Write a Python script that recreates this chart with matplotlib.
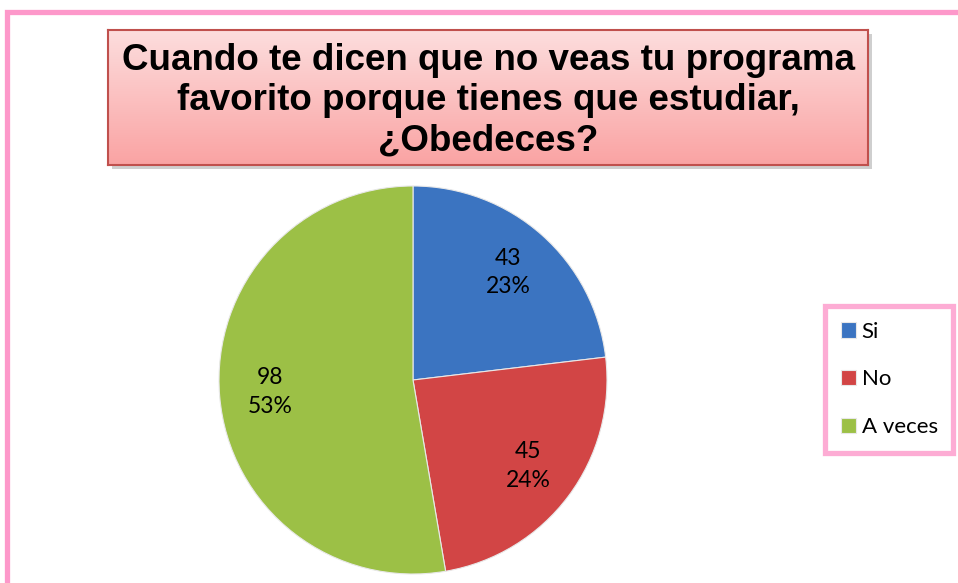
import numpy as np
import matplotlib.pyplot as plt
from matplotlib.patches import Rectangle

labels = ['Si', 'No', 'A veces']
values = [43, 45, 98]
colors = ['#3b74c1', '#d24545', '#9cc046']
title = 'Cuando te dicen que no veas tu programa\nfavorito porque tienes que estudiar,\n¿Obedeces?'

W, H = 958, 583
fig = plt.figure(figsize=(W / 100, H / 100), dpi=100)
fig.patch.set_facecolor('white')

# pink outer frame (runs off the right and bottom edges)
fig.patches.append(Rectangle((7 / W, -0.1), 1.2, 1 - 12 / H + 0.1, transform=fig.transFigure,
                             fill=False, edgecolor='#fd98ca', linewidth=3.8, zorder=0))

# title box with shadow and gradient
x0, x1, y0, y1 = 108, 868, 30, 165
fig.patches.append(Rectangle(((x0 + 4) / W, 1 - (y1 + 4) / H), (x1 - x0) / W, (y1 - y0) / H,
                             transform=fig.transFigure, facecolor='#b0b0b0', edgecolor='none',
                             alpha=0.6, zorder=1))
tax = fig.add_axes([x0 / W, 1 - y1 / H, (x1 - x0) / W, (y1 - y0) / H], zorder=2)
grad = np.linspace(0, 1, 100).reshape(-1, 1)
top = np.array([0.99, 0.87, 0.87])
bot = np.array([0.98, 0.64, 0.64])
img = top + grad[:, :, None] * (bot - top)
tax.imshow(img, aspect='auto', extent=[0, 1, 0, 1], origin='upper')
tax.set_xticks([])
tax.set_yticks([])
for s in tax.spines.values():
    s.set_edgecolor('#c0504d')
    s.set_linewidth(1.5)
tax.text(0.5, 0.475, title, ha='center', va='center', fontsize=26.5, fontweight='bold',
         family='Liberation Sans', linespacing=1.19, transform=tax.transAxes)

# pie
cx, cy, r = 413, 380, 194
ax = fig.add_axes([(cx - r) / W, (H - cy - r) / H, 2 * r / W, 2 * r / H], zorder=3)
total = sum(values)


def fmt(p):
    v = int(round(p * total / 100))
    return f'{v}\n{p:.0f}%'


wedges, texts, autotexts = ax.pie(values, colors=colors, startangle=90, counterclock=False,
                                  autopct=fmt, pctdistance=0.74,
                                  wedgeprops=dict(edgecolor='#e8e8e8', linewidth=0.8),
                                  textprops=dict(fontsize=16.5, family='Lato', linespacing=1.45))
ax.set_xlim(-1, 1)
ax.set_ylim(-1, 1)
ax.set_aspect('auto')

leg = fig.legend(wedges, labels, loc='upper left', bbox_to_anchor=(825 / W, 1 - 306 / H),
                 prop=dict(family='Lato', size=16), frameon=True, fancybox=False,
                 labelspacing=1.25, handlelength=0.7, handleheight=0.7, handletextpad=0.25,
                 borderpad=0.7, borderaxespad=0)
leg.get_frame().set_edgecolor('#fd98ca')
leg.get_frame().set_linewidth(3.8)

fig.savefig('out.png', dpi=100, facecolor='white')
